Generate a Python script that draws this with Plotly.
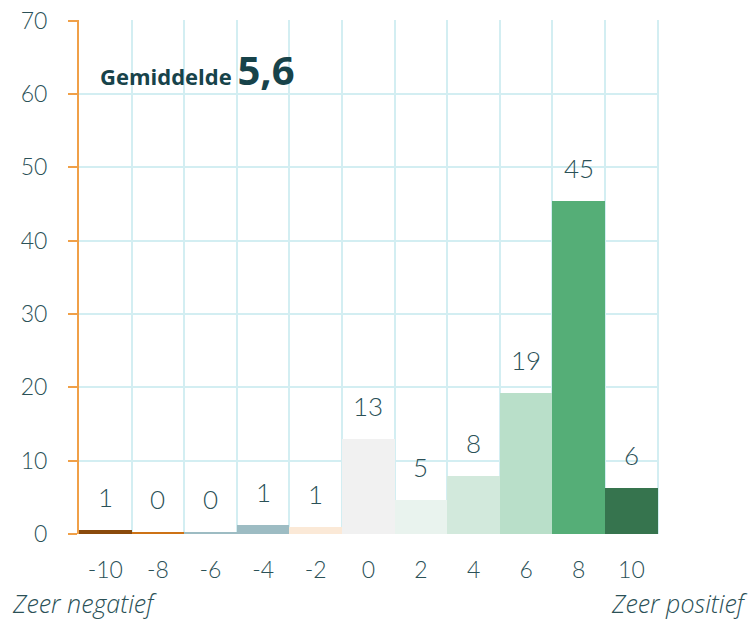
import plotly.graph_objects as go

scores = [-10, -8, -6, -4, -2, 0, 2, 4, 6, 8, 10]
percentages = [0.6, 0.3, 0.3, 1.2, 0.9, 12.9, 4.6, 7.9, 19.2, 45.4, 6.3]
bar_colors = ["#8A4A0C", "#CD7215", "#9DBCC3", "#9DBCC3", "#FBE9D7", "#F1F1F1",
              "#E9F3EE", "#D2E9DC", "#B9DFC9", "#55AE77", "#36744E"]
y_ticks = [0, 10, 20, 30, 40, 50, 60, 70]
boundaries = [-9, -7, -5, -3, -1, 1, 3, 5, 7, 9, 11]
mean_label = "Gemiddelde"
mean_value = "5,6"
left_label = "Zeer negatief"
right_label = "Zeer positief"

FONT = "Lato"
FONT2 = "Open Sans"
TXT = "#2B5157"
GRID = "#D3EEF2"
ORANGE = "#F0A048"

fig = go.Figure()
fig.add_trace(go.Bar(
    x=scores, y=percentages, width=2,
    marker=dict(color=bar_colors, line=dict(width=0)),
    hoverinfo="skip", showlegend=False,
))

for s, p in zip(scores, percentages):
    fig.add_annotation(x=s, y=p, text=f"{round(p):d}", showarrow=False,
                       yshift=33, yanchor="middle",
                       font=dict(family=FONT, size=26, color=TXT, weight=300))

fig.add_annotation(xref="paper", yref="paper", x=0.033, y=0.903, xanchor="left", yanchor="middle",
                   text=f"<b>{mean_label}</b> <b><span style='font-size:40px'>{mean_value}</span></b>",
                   showarrow=False, font=dict(family=FONT2, size=22, color="#17434A"))
fig.add_annotation(xref="paper", yref="paper", x=-0.119, y=-0.134, xanchor="left", yanchor="middle",
                   text=f"<i>{left_label}</i>", showarrow=False,
                   font=dict(family=FONT2, size=25, color=TXT, weight=300))
fig.add_annotation(xref="paper", yref="paper", x=1.157, y=-0.134, xanchor="right", yanchor="middle",
                   text=f"<i>{right_label}</i>", showarrow=False,
                   font=dict(family=FONT2, size=25, color=TXT, weight=300))

fig.update_layout(
    width=751, height=619,
    margin=dict(l=79, r=92, t=20, b=85, autoexpand=False),
    paper_bgcolor="white", plot_bgcolor="white",
    bargap=0,
    xaxis=dict(range=[-11, 11.05], tickmode="array", tickvals=scores,
               ticktext=[str(s) for s in scores], showgrid=False, zeroline=False,
               ticks="", ticklabelstandoff=20, automargin=False,
               ticklabeloverflow="allow",
               tickfont=dict(family=FONT, size=23, color=TXT, weight=300),
               minor=dict(tickmode="array", tickvals=boundaries, showgrid=True,
                          gridcolor=GRID, gridwidth=2, ticks=""),
               fixedrange=True),
    yaxis=dict(range=[0, 70.1], tickmode="array", tickvals=y_ticks,
               showgrid=True, gridcolor=GRID, gridwidth=2, zeroline=False,
               showline=True, linecolor=ORANGE, linewidth=2,
               ticks="outside", ticklen=9, tickwidth=2, tickcolor=ORANGE,
               ticklabelstandoff=16, automargin=False,
               ticklabeloverflow="allow",
               tickfont=dict(family=FONT, size=23, color=TXT, weight=300),
               fixedrange=True),
    yaxis2=dict(range=[0, 70.1], overlaying="y", side="left", anchor="x",
                tickmode="array", tickvals=y_ticks, showticklabels=False,
                showgrid=False, zeroline=False, showline=False, automargin=False,
                ticks="inside", ticklen=9, tickwidth=2, tickcolor=ORANGE,
                fixedrange=True),
)

fig.write_html("out.html", config={"displayModeBar": False},
               post_script="document.body.style.margin='0';")
